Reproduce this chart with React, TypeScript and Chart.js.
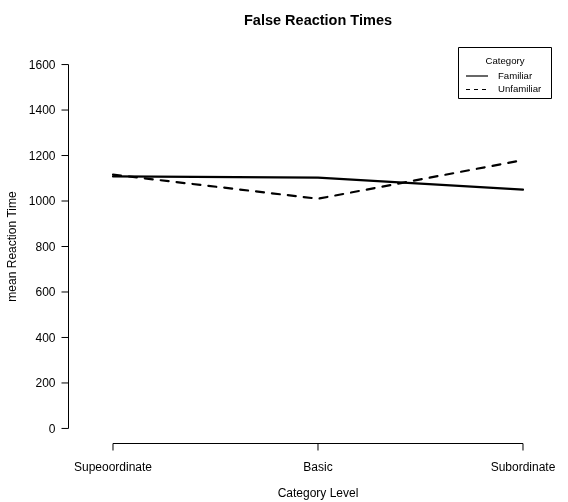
import React, { useEffect, useRef } from "react";
import { Chart, registerables } from "chart.js";

Chart.register(...registerables);

const categories = ["Supeoordinate", "Basic", "Subordinate"];
const categoryPositions = [1, 2, 3];
const familiar = [1108, 1103, 1050];
const unfamiliar = [1116, 1010, 1180];
const seriesNames = ["Familiar", "Unfamiliar"];
const yTicks = [0, 200, 400, 600, 800, 1000, 1200, 1400, 1600];
const titleText = "False Reaction Times";
const xTitle = "Category Level";
const yTitle = "mean Reaction Time";
const legendTitle = "Category";

const FONT = "'Liberation Sans', Arial, Helvetica, sans-serif";

const rAxesPlugin = {
  id: "rAxes",
  afterDraw(chart: any) {
    const { ctx, chartArea, scales } = chart;
    const xs = scales.x;
    const ys = scales.y;
    ctx.save();
    ctx.strokeStyle = "#000";
    ctx.fillStyle = "#000";
    ctx.lineWidth = 1;
    ctx.setLineDash([]);

    // Y axis
    const x0 = Math.round(chartArea.left) + 0.5;
    const yTop = ys.getPixelForValue(yTicks[yTicks.length - 1]);
    const yBot = ys.getPixelForValue(yTicks[0]);
    ctx.beginPath();
    ctx.moveTo(x0, yTop);
    ctx.lineTo(x0, yBot);
    yTicks.forEach((t) => {
      const py = ys.getPixelForValue(t);
      ctx.moveTo(x0 - 7, py);
      ctx.lineTo(x0, py);
    });
    ctx.stroke();
    ctx.font = `12px ${FONT}`;
    ctx.textAlign = "right";
    ctx.textBaseline = "middle";
    yTicks.forEach((t) => {
      ctx.fillText(String(t), x0 - 13, ys.getPixelForValue(t) + 1);
    });

    // X axis
    const y0 = Math.round(chartArea.bottom) + 0.5;
    const xL = xs.getPixelForValue(categoryPositions[0]);
    const xR = xs.getPixelForValue(categoryPositions[categoryPositions.length - 1]);
    ctx.beginPath();
    ctx.moveTo(xL, y0);
    ctx.lineTo(xR, y0);
    categoryPositions.forEach((p) => {
      const px = xs.getPixelForValue(p);
      ctx.moveTo(px, y0);
      ctx.lineTo(px, y0 + 7);
    });
    ctx.stroke();
    ctx.textAlign = "center";
    ctx.textBaseline = "middle";
    categories.forEach((c, i) => {
      ctx.fillText(c, xs.getPixelForValue(categoryPositions[i]), y0 + 24);
    });

    // Axis titles
    ctx.fillText(xTitle, xs.getPixelForValue(2), 494);
    ctx.save();
    ctx.translate(13, (chartArea.top + chartArea.bottom) / 2);
    ctx.rotate(-Math.PI / 2);
    ctx.fillText(yTitle, 0, 0);
    ctx.restore();

    // Main title
    ctx.font = `bold 14.5px ${FONT}`;
    ctx.fillText(titleText, xs.getPixelForValue(2), 21);

    // Legend
    const bx = 458.5, by = 47.5, bw = 93, bh = 51;
    ctx.beginPath();
    ctx.rect(bx, by, bw, bh);
    ctx.stroke();
    ctx.font = `9.6px ${FONT}`;
    ctx.textAlign = "center";
    ctx.fillText(legendTitle, bx + bw / 2, 61.5);
    ctx.textAlign = "left";
    seriesNames.forEach((name, i) => {
      const ly = 76 + i * 13.5;
      ctx.beginPath();
      ctx.lineWidth = 1.2;
      ctx.setLineDash(i === 0 ? [] : [4, 4]);
      ctx.moveTo(466, ly);
      ctx.lineTo(488, ly);
      ctx.stroke();
      ctx.setLineDash([]);
      ctx.fillText(name, 498, ly);
    });
    ctx.restore();
  },
};

export default function App() {
  const ref = useRef<HTMLCanvasElement | null>(null);
  useEffect(() => {
    if (!ref.current) return;
    const chart = new Chart(ref.current, {
      type: "line",
      data: {
        datasets: [
          {
            label: seriesNames[0],
            data: categoryPositions.map((x, i) => ({ x, y: familiar[i] })),
            borderColor: "#000",
            borderWidth: 2.2,
            pointRadius: 0,
            tension: 0,
            borderCapStyle: "round",
            borderJoinStyle: "round",
          },
          {
            label: seriesNames[1],
            data: categoryPositions.map((x, i) => ({ x, y: unfamiliar[i] })),
            borderColor: "#000",
            borderWidth: 2.2,
            borderDash: [8, 8],
            pointRadius: 0,
            tension: 0,
            borderCapStyle: "round",
            borderJoinStyle: "round",
          },
        ],
      },
      options: {
        animation: false,
        responsive: false,
        maintainAspectRatio: false,
        layout: { padding: { left: 68, right: 8, top: 50, bottom: 59 } },
        plugins: { legend: { display: false }, title: { display: false }, tooltip: { enabled: false } },
        scales: {
          x: { type: "linear", min: 0.7805, max: 3.1805, display: false },
          y: { type: "linear", min: -64, max: 1664, display: false },
        },
      },
      plugins: [rAxesPlugin],
    });
    return () => chart.destroy();
  }, []);
  return (
    <div style={{ position: "absolute", left: 0, top: 0, width: 568, height: 502, background: "#fff" }}>
      <canvas ref={ref} width={568} height={502} style={{ width: 568, height: 502, display: "block" }} />
    </div>
  );
}
